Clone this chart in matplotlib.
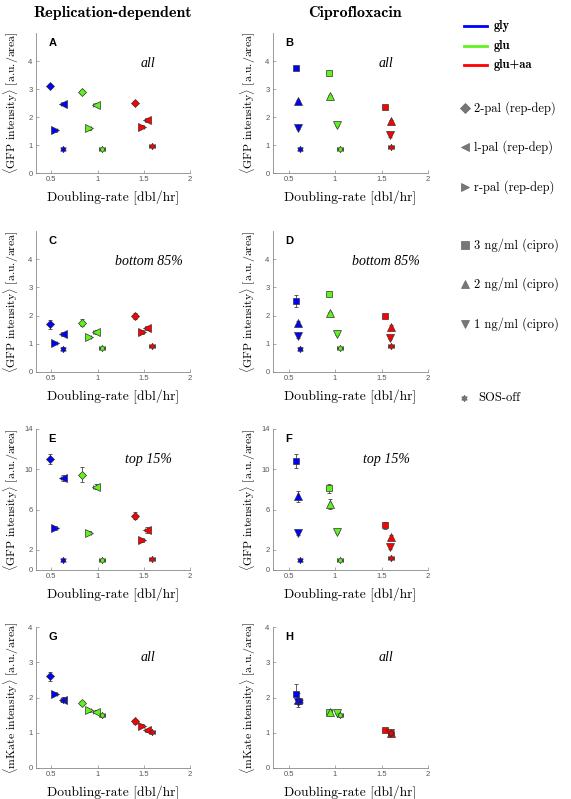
import matplotlib
matplotlib.use('Agg')
import matplotlib.pyplot as plt
from matplotlib.path import Path
import numpy as np

plt.rcParams['mathtext.fontset'] = 'cm'
plt.rcParams['font.family'] = 'Liberation Sans'

# ---- data (rows = media, cols = strains) ----
media = ['gly', 'glu', 'glu+aa']
rep_strains = ['2-pal (rep-dep)', 'l-pal (rep-dep)', 'r-pal (rep-dep)', 'SOS-off']
cip_strains = ['3 ng/ml (cipro)', '2 ng/ml (cipro)', '1 ng/ml (cipro)', 'SOS-off']

# doubling rate [dbl/hr]
rep_rate = [[0.48, 0.62, 0.535, 0.62],
            [0.83, 0.98, 0.905, 1.05],
            [1.41, 1.53, 1.485, 1.59]]
rep_rate_err = [[0.01, 0.02, 0.02, 0.02],
                [0.01, 0.03, 0.02, 0.03],
                [0.01, 0.02, 0.02, 0.03]]
cip_rate = [[0.585, 0.60, 0.60, 0.625],
            [0.93, 0.95, 1.02, 1.055],
            [1.54, 1.60, 1.595, 1.60]]
cip_rate_err = [[0.01, 0.01, 0.01, 0.02],
                [0.01, 0.01, 0.01, 0.03],
                [0.01, 0.01, 0.01, 0.03]]

# <GFP intensity>, all cells
gfp_all_rep = [[3.10, 2.48, 1.52, 0.84],
               [2.90, 2.44, 1.59, 0.86],
               [2.49, 1.89, 1.65, 0.95]]
gfp_all_rep_err = [[0.08, 0.05, 0.04, 0.03],
                   [0.07, 0.05, 0.04, 0.03],
                   [0.07, 0.06, 0.05, 0.03]]
gfp_all_cip = [[3.76, 2.57, 1.61, 0.84],
               [3.58, 2.75, 1.71, 0.87],
               [2.35, 1.85, 1.34, 0.93]]
gfp_all_cip_err = [[0.05, 0.05, 0.04, 0.03],
                   [0.06, 0.05, 0.04, 0.03],
                   [0.05, 0.05, 0.04, 0.03]]

# <GFP intensity>, bottom 85%
gfp_bot_rep = [[1.69, 1.34, 1.04, 0.83],
               [1.75, 1.42, 1.24, 0.86],
               [1.99, 1.56, 1.42, 0.93]]
gfp_bot_rep_err = [[0.15, 0.08, 0.04, 0.04],
                   [0.13, 0.06, 0.05, 0.04],
                   [0.11, 0.07, 0.06, 0.04]]
gfp_bot_cip = [[2.51, 1.74, 1.27, 0.83],
               [2.78, 2.09, 1.34, 0.86],
               [1.99, 1.60, 1.21, 0.93]]
gfp_bot_cip_err = [[0.22, 0.08, 0.06, 0.04],
                   [0.05, 0.05, 0.04, 0.04],
                   [0.05, 0.05, 0.05, 0.04]]

# <GFP intensity>, top 15%
gfp_top_rep = [[11.0, 9.09, 4.21, 0.96],
               [9.46, 8.29, 3.72, 1.00],
               [5.37, 3.98, 2.99, 1.09]]
gfp_top_rep_err = [[0.5, 0.3, 0.2, 0.1],
                   [0.75, 0.2, 0.15, 0.1],
                   [0.35, 0.3, 0.2, 0.1]]
gfp_top_cip = [[10.85, 7.30, 3.72, 1.00],
               [8.13, 6.54, 3.82, 1.00],
               [4.45, 3.32, 2.32, 1.16]]
gfp_top_cip_err = [[0.7, 0.5, 0.2, 0.1],
                   [0.45, 0.5, 0.15, 0.1],
                   [0.35, 0.2, 0.2, 0.1]]

# <mKate intensity>, all cells
mk_rep = [[2.60, 1.94, 2.11, 1.92],
          [1.84, 1.60, 1.64, 1.49],
          [1.32, 1.07, 1.20, 1.02]]
mk_rep_err = [[0.12, 0.07, 0.04, 0.04],
              [0.06, 0.04, 0.04, 0.04],
              [0.06, 0.04, 0.04, 0.04]]
mk_cip = [[2.11, 1.94, 1.87, 1.89],
          [1.60, 1.58, 1.56, 1.49],
          [1.07, 0.99, 1.00, 1.00]]
mk_cip_err = [[0.28, 0.2, 0.05, 0.05],
              [0.04, 0.04, 0.04, 0.04],
              [0.04, 0.04, 0.04, 0.04]]

xticks = [0.5, 1, 1.5, 2]
xtick_labels = ['0.5', '1', '1.5', '2']
yticks_small = [0, 1, 2, 3, 4]
yticks_top = [0, 2, 6, 10, 14]

# ---- style ----
colors = ['#0000ff', '#5ff21f', '#ff0000']
hexagram = Path.unit_regular_star(6, 0.577)
rep_markers = ['D', '<', '>', hexagram]
rep_sizes = [4.4, 6, 6, 4.6]
cip_markers = ['s', '^', 'v', hexagram]
cip_sizes = [5, 5.8, 5.8, 4.6]
serif = 'cmr10'
W, H = 571, 799

fig = plt.figure(figsize=(W / 100, H / 100), dpi=100)


def add_ax(l, t, r, b):
    return fig.add_axes([l / W, 1 - b / H, (r - l) / W, (b - t) / H])


def panel(ax, rate, rate_err, vals, errs, markers, sizes, letter, note,
          ylim, yticks, ylabel):
    for i in range(len(media)):
        for j in range(len(markers)):
            ax.errorbar(rate[i][j], vals[i][j], xerr=rate_err[i][j],
                        yerr=errs[i][j], fmt='none', ecolor='#444444',
                        elinewidth=0.6, capsize=1.3, capthick=0.6, zorder=2)
            ax.plot(rate[i][j], vals[i][j], marker=markers[j], ms=sizes[j],
                    mfc=colors[i], mec='#333333', mew=0.5, ls='none', zorder=3)
    ax.set_xlim(0.333, 2)
    ax.set_ylim(ylim)
    ax.set_xticks(xticks, xtick_labels)
    ax.set_yticks(yticks)
    ax.spines[['top', 'right']].set_visible(False)
    for s in ['left', 'bottom']:
        ax.spines[s].set_color('#888888')
        ax.spines[s].set_linewidth(0.6)
    ax.tick_params(direction='in', length=2, width=0.5, colors='#888888',
                   labelcolor='#555555', labelsize=5.5, pad=2.5)
    ax.set_xlabel('Doubling-rate [dbl/hr]', family=serif, fontsize=9.7)
    ax.xaxis.set_label_coords(0.5, -0.125)
    ax.set_ylabel(ylabel, family=serif, fontsize=8.5)
    ax.yaxis.set_label_coords(-0.1, 0.5)
    ax.text(0.08, 0.93, letter, transform=ax.transAxes, fontsize=8,
            fontweight='bold', va='center', ha='left')
    ax.text(0.73, 0.785, note, transform=ax.transAxes, fontsize=10,
            family='Liberation Serif', style='italic', ha='center',
            va='center')


gfp_label = r'$\langle$GFP intensity$\rangle$ [a.u./area]'
mk_label = r'$\langle$mKate intensity$\rangle$ [a.u./area]'

cols = [(36, 190), (273, 428)]
rows = [(33, 173), (231, 372), (429, 570), (627, 768)]

rows_rep = [(gfp_all_rep, gfp_all_rep_err, 'A', 'all', (0, 5), yticks_small, gfp_label),
            (gfp_bot_rep, gfp_bot_rep_err, 'C', 'bottom 85%', (0, 5), yticks_small, gfp_label),
            (gfp_top_rep, gfp_top_rep_err, 'E', 'top 15%', (0, 14), yticks_top, gfp_label),
            (mk_rep, mk_rep_err, 'G', 'all', (0, 4), yticks_small, mk_label)]
rows_cip = [(gfp_all_cip, gfp_all_cip_err, 'B', 'all', (0, 5), yticks_small, gfp_label),
            (gfp_bot_cip, gfp_bot_cip_err, 'D', 'bottom 85%', (0, 5), yticks_small, gfp_label),
            (gfp_top_cip, gfp_top_cip_err, 'F', 'top 15%', (0, 14), yticks_top, gfp_label),
            (mk_cip, mk_cip_err, 'H', 'all', (0, 4), yticks_small, mk_label)]

for (t, b), rr, rc in zip(rows, rows_rep, rows_cip):
    ax = add_ax(cols[0][0], t, cols[0][1], b)
    panel(ax, rep_rate, rep_rate_err, rr[0], rr[1], rep_markers, rep_sizes,
          rr[2], rr[3], rr[4], rr[5], rr[6])
    ax = add_ax(cols[1][0], t, cols[1][1], b)
    panel(ax, cip_rate, cip_rate_err, rc[0], rc[1], cip_markers, cip_sizes,
          rc[2], rc[3], rc[4], rc[5], rc[6])

fig.text(113 / W, 1 - 13 / H, 'Replication-dependent', family='cmb10',
         fontsize=11.5, ha='center', va='center')
fig.text(355 / W, 1 - 13 / H, 'Ciprofloxacin', family='cmb10',
         fontsize=11.5, ha='center', va='center')

# ---- legend (drawn in pixel space on an overlay axes) ----
leg = fig.add_axes([0, 0, 1, 1])
leg.set_xlim(0, W)
leg.set_ylim(H, 0)
leg.axis('off')
for i, m in enumerate(media):
    y = 26 + i * 19.5
    leg.plot([464, 487], [y, y], color=colors[i], lw=2)
    leg.text(494, y, m, family='cmb10', fontsize=9, va='center')

leg_y = [108, 147, 187]
for j in range(3):
    leg.plot(465, leg_y[j], marker=rep_markers[j], ms=rep_sizes[j] + 0.4,
             mfc='#777777', mec='#666666', mew=0.5, ls='none')
    leg.text(474, leg_y[j], rep_strains[j], family=serif, fontsize=9,
             va='center')
leg_y = [245, 284, 324]
for j in range(3):
    leg.plot(465, leg_y[j], marker=cip_markers[j], ms=cip_sizes[j] + 0.5,
             mfc='#777777', mec='#666666', mew=0.5, ls='none')
    leg.text(474, leg_y[j], cip_strains[j], family=serif, fontsize=9,
             va='center')
leg.plot(464, 398, marker=cip_markers[3], ms=cip_sizes[3],
         mfc='#777777', mec='#666666', mew=0.5, ls='none')
leg.text(478, 398, cip_strains[3], family=serif, fontsize=9, va='center')

fig.savefig('out.png', dpi=100)
